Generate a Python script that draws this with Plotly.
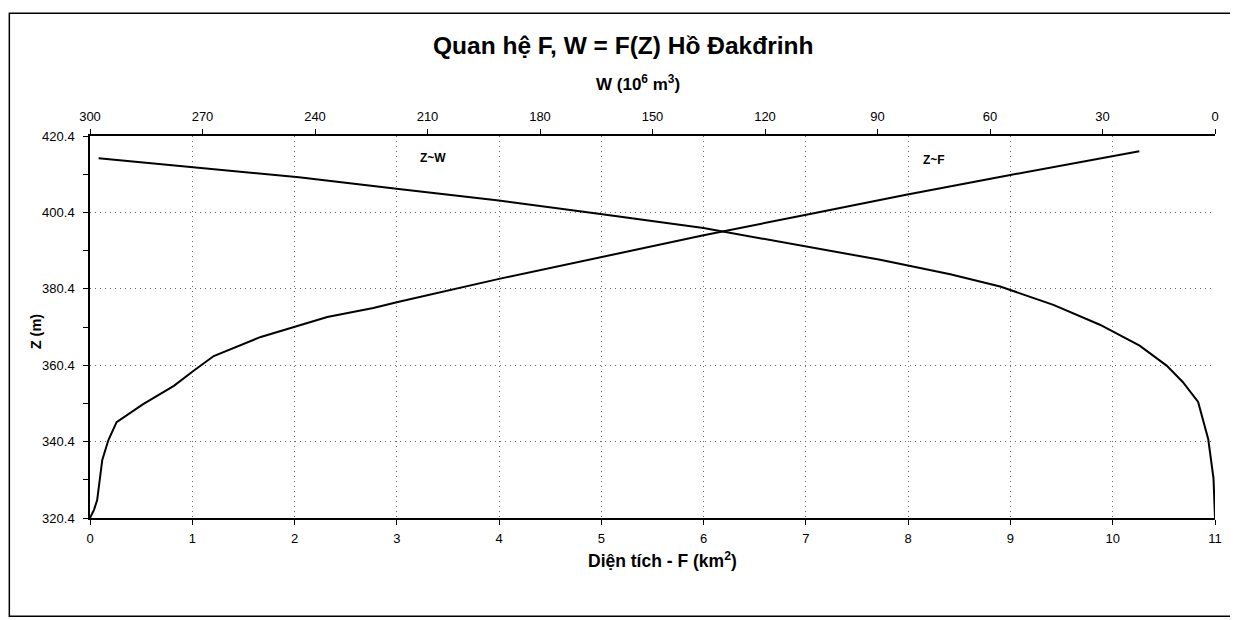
import plotly.graph_objects as go

# Z~F : area F (km2) vs elevation Z (m)
area_F = [0, 0.04, 0.07, 0.12, 0.18, 0.26, 0.52, 0.82, 1.01, 1.21, 1.67, 2.03, 2.32,
          2.77, 3.02, 4.0, 4.99, 6.0, 7.04, 7.98, 8.96, 9.97, 10.26]
elev_F = [320.4, 322.6, 325.1, 335.6, 340.8, 345.5, 350.2, 355.0, 358.9, 362.8, 367.8, 370.7, 373.0,
          375.4, 377.0, 383.0, 388.6, 394.4, 400.0, 405.0, 410.0, 415.0, 416.4]

# Z~W : volume W (10^6 m3) vs elevation Z (m)
vol_W = [297.7, 272.3, 244.3, 217.7, 191.0, 163.9, 136.4, 89.3, 82.2, 70.6, 57.3, 43.1, 30.7,
         20.1, 12.9, 8.6, 4.5, 1.8, 0.4, 0]
elev_W = [414.6, 412.2, 409.6, 406.5, 403.5, 400.0, 396.3, 388.0, 386.5, 384.2, 381.0, 376.2, 371.0,
          365.5, 360.3, 356.0, 350.8, 341.0, 330.8, 320.4]

f_ticks = list(range(0, 12))
w_ticks = [300, 270, 240, 210, 180, 150, 120, 90, 60, 30, 0]
z_ticks = [320.4, 340.4, 360.4, 380.4, 400.4, 420.4]

title_text = "Quan hệ F, W = F(Z) Hồ Đakđrinh"
w_title = "W (10<sup>6</sup> m<sup>3</sup>)"
f_title = "Diện tích - F (km<sup>2</sup>)"
z_title = "Z (m)"

FONT = "Liberation Sans, Arial, sans-serif"

# page body has an 8px margin -> work in page pixel coordinates and shift
OFF = 8
PAGE_W, PAGE_H = 1238, 620
W_FIG, H_FIG = PAGE_W - OFF, PAGE_H - OFF
L, R, T, B = 89.5, 1215, 136, 518.5  # plot area in page pixels

fig = go.Figure()
fig.add_trace(go.Scatter(x=area_F, y=elev_F, mode="lines", name="Z~F",
                         line=dict(color="black", width=2), xaxis="x", yaxis="y"))
fig.add_trace(go.Scatter(x=vol_W, y=elev_W, mode="lines", name="Z~W",
                         line=dict(color="black", width=2), xaxis="x2", yaxis="y"))

axis_common = dict(showline=True, linecolor="black", linewidth=1.5, zeroline=False,
                   ticks="outside", ticklen=5, tickcolor="black",
                   tickfont=dict(size=13, family=FONT, color="black"))
GRID = dict(showgrid=True, gridcolor="#666", griddash="1px,4px", gridwidth=1)

fig.update_layout(
    width=W_FIG, height=H_FIG,
    margin=dict(l=L - OFF, r=PAGE_W - R, t=T - OFF, b=PAGE_H - B, pad=0),
    paper_bgcolor="white", plot_bgcolor="white",
    showlegend=False,
    font=dict(family=FONT, color="black", size=12),
    xaxis=dict(range=[0, 11], tickvals=f_ticks, ticklabelstandoff=3, **GRID, **axis_common),
    xaxis2=dict(range=[300, 0], tickvals=w_ticks, overlaying="x", side="top",
                showgrid=False, ticklabelstandoff=3, **axis_common),
    yaxis=dict(range=[320.4, 420.4], tickvals=z_ticks, ticktext=[f"{v:.1f}" for v in z_ticks],
               ticklabelstandoff=6,
               minor=dict(tick0=330.4, dtick=20, ticks="outside", ticklen=5,
                          tickcolor="black", showgrid=False),
               **GRID, **axis_common),
)

def py(p):  # page pixel y -> paper y
    return (B - p) / (B - T)

def px(p):  # page pixel x -> paper x
    return (p - L) / (R - L)

annotations = [
    dict(text=f"<b>{title_text}</b>", x=px(623), y=py(45), font=dict(size=24.5)),
    dict(text=f"<b>{w_title}</b>", x=px(638), y=py(83), font=dict(size=17)),
    dict(text=f"<b>{f_title}</b>", x=px(662), y=py(561), font=dict(size=17.5)),
    dict(text=f"<b>{z_title}</b>", x=px(35), y=py(332), font=dict(size=14.5), textangle=-90),
]
for a in annotations:
    a.update(xref="paper", yref="paper", showarrow=False, xanchor="center", yanchor="middle")
    fig.add_annotation(**a)

fig.add_annotation(text="<b>Z~W</b>", x=3.35, y=414.6, xref="x", yref="y",
                   showarrow=False, font=dict(size=12))
fig.add_annotation(text="<b>Z~F</b>", x=8.25, y=414.1, xref="x", yref="y",
                   showarrow=False, font=dict(size=12))

# outer frame of the chart
fig.add_shape(type="rect", xref="paper", yref="paper",
              x0=px(OFF + 0.8), x1=px(1236), y0=py(617), y1=py(13),
              line=dict(color="black", width=1.5), layer="below")

fig.write_html("out.html")
